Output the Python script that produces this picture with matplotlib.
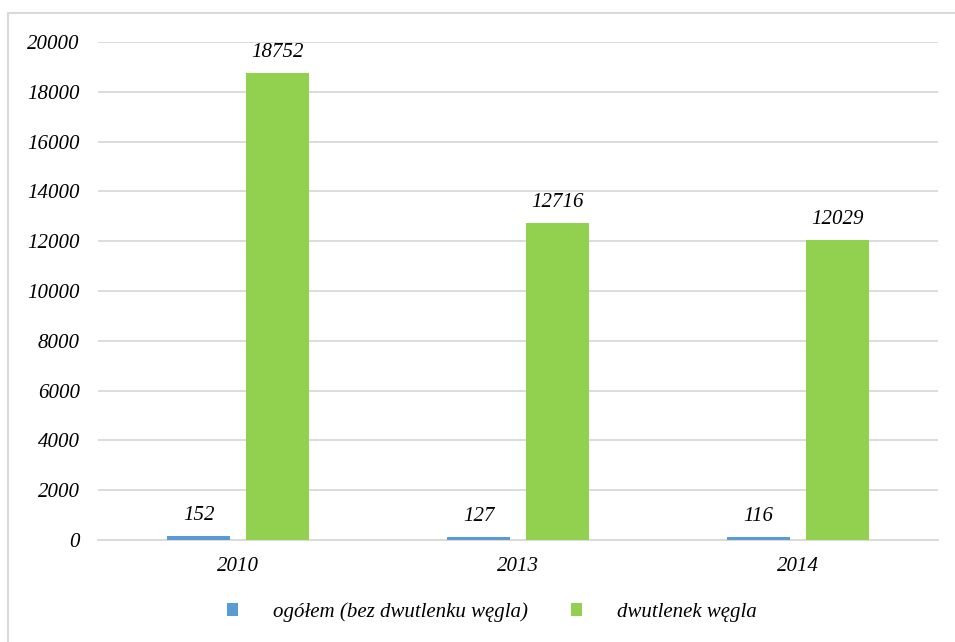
import matplotlib
matplotlib.use("Agg")
import matplotlib.pyplot as plt
from matplotlib.patches import Rectangle
import numpy as np

years = ["2010", "2013", "2014"]
series_names = ["ogółem (bez dwutlenku węgla)", "dwutlenek węgla"]
ogolem = [152, 127, 116]
co2 = [18752, 12716, 12029]
yticks = [0, 2000, 4000, 6000, 8000, 10000, 12000, 14000, 16000, 18000, 20000]

blue = "#5B9BD5"
green = "#92D050"
grid_c = "#D9D9D9"
fs = 15

plt.rcParams["font.family"] = ["Liberation Serif", "DejaVu Serif"]
plt.rcParams["font.style"] = "italic"

W, H = 955, 642
fig = plt.figure(figsize=(W / 100, H / 100), dpi=100)

# outer chart frame (left and top edges visible)
fig.patches.append(Rectangle((8 / W, -0.05), 1.2, 1 - 13 / H + 0.05,
                             transform=fig.transFigure, fill=False,
                             edgecolor=grid_c, linewidth=1.5))

ax = fig.add_axes([98 / W, 1 - 540 / H, (938 - 98) / W, (540 - 42) / H])

x = np.arange(len(years))
bw = 0.222
off = 0.141
b1 = ax.bar(x - off, ogolem, bw, color=blue, label=series_names[0], zorder=3)
b2 = ax.bar(x + off, co2, bw, color=green, label=series_names[1], zorder=3)

for bars, vals in ((b1, ogolem), (b2, co2)):
    for r, v in zip(bars, vals):
        ax.annotate(f"{v}", (r.get_x() + r.get_width() / 2, v),
                    xytext=(0, 8), textcoords="offset points",
                    ha="center", va="bottom", fontsize=fs, style="italic")

ax.set_xlim(-0.5, len(years) - 0.5)
ax.set_ylim(0, 20000)
ax.set_yticks(yticks)
ax.set_yticklabels([str(t) for t in yticks], fontsize=fs, style="italic")
ax.set_xticks(x)
ax.set_xticklabels(years, fontsize=fs, style="italic")
ax.tick_params(axis="both", length=0)
ax.tick_params(axis="y", pad=13)
ax.tick_params(axis="x", pad=12)
ax.yaxis.grid(True, color=grid_c, linewidth=1.3, zorder=0)
ax.set_axisbelow(True)
for s in ("top", "right", "left"):
    ax.spines[s].set_visible(False)
ax.spines["bottom"].set_color(grid_c)
ax.spines["bottom"].set_linewidth(1.3)

fig.legend(handles=[b1, b2], labels=series_names, loc="center",
           bbox_to_anchor=(492 / W, 1 - 612 / H), ncol=2, frameon=False,
           handlelength=0.53, handleheight=0.53,
           handletextpad=1.7, columnspacing=2.05,
           prop={"style": "italic", "size": fs})

fig.savefig("out.png", dpi=100)
